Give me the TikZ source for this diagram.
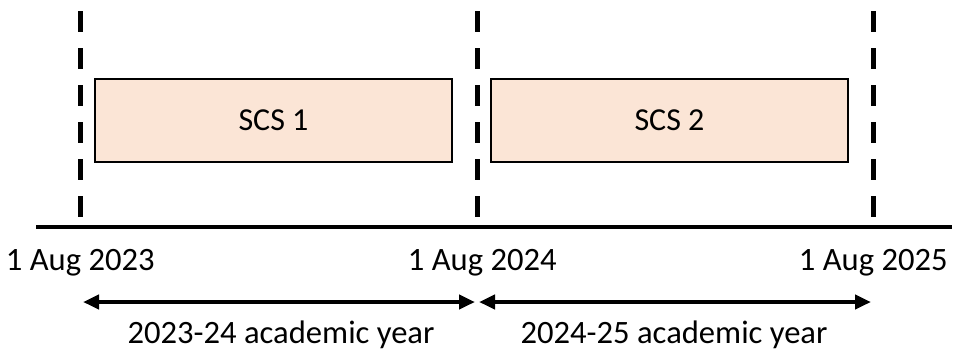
\documentclass[tikz,border=0pt]{standalone}
\usepackage{fontspec}
\setmainfont{Carlito}
\usepackage{tikz}
\usetikzlibrary{arrows.meta,positioning}
\definecolor{scsfill}{HTML}{FBE5D6}

\begin{document}
\begin{tikzpicture}[x=0.5pt,y=-0.5pt,
    scsbox/.style={draw=black, line width=1pt, fill=scsfill, minimum width=178.5pt,
                   minimum height=41.5pt, inner sep=0pt, font=\fontsize{16}{19}\selectfont},
    datelabel/.style={inner sep=0pt, anchor=base east, font=\fontsize{16.3}{19}\selectfont},
    yearlabel/.style={inner sep=0pt, anchor=base, font=\fontsize{16.3}{19}\selectfont},
    boundary/.style={line width=2.5pt, dash pattern=on 10.5pt off 8pt},
    axisline/.style={line width=2.2pt},
    span/.style={line width=2pt, {Triangle[length=8pt,width=7pt]}-{Triangle[length=8pt,width=7pt]}}]
\useasboundingbox (0,0) rectangle (954,350);

% the two SCS periods
\node[scsbox] (scs1) at (273.5,120.5) {SCS 1};
\node[scsbox] (scs2) at (669.5,120.5) {SCS 2};

% dashed year boundaries
\coordinate (b1top) at (80,11);   \coordinate (b1bot) at (80,217);
\coordinate (b2top) at (477,11);  \coordinate (b2bot) at (477,217);
\coordinate (b3top) at (873,11);  \coordinate (b3bot) at (873,217);
\draw[boundary] (b1top) -- (b1bot);
\draw[boundary] (b2top) -- (b2bot);
\draw[boundary] (b3top) -- (b3bot);

% time axis
\coordinate (axisL) at (36,227);
\coordinate (axisR) at (952,227);
\draw[axisline] (axisL) -- (axisR);

\node[datelabel] (d2023) at (155,270) {1 Aug 2023};
\node[datelabel] (d2024) at (557,270) {1 Aug 2024};
\node[datelabel] (d2025) at (948,270) {1 Aug 2025};

% academic years
\coordinate (y1L) at (83,302);  \coordinate (y1R) at (475,302);
\coordinate (y2L) at (479,302); \coordinate (y2R) at (871,302);
\draw[span] (y1L) -- (y1R);
\draw[span] (y2L) -- (y2R);

\node[yearlabel] (ay1) at (281,343) {2023-24 academic year};
\node[yearlabel] (ay2) at (674,343) {2024-25 academic year};
\end{tikzpicture}
\end{document}
